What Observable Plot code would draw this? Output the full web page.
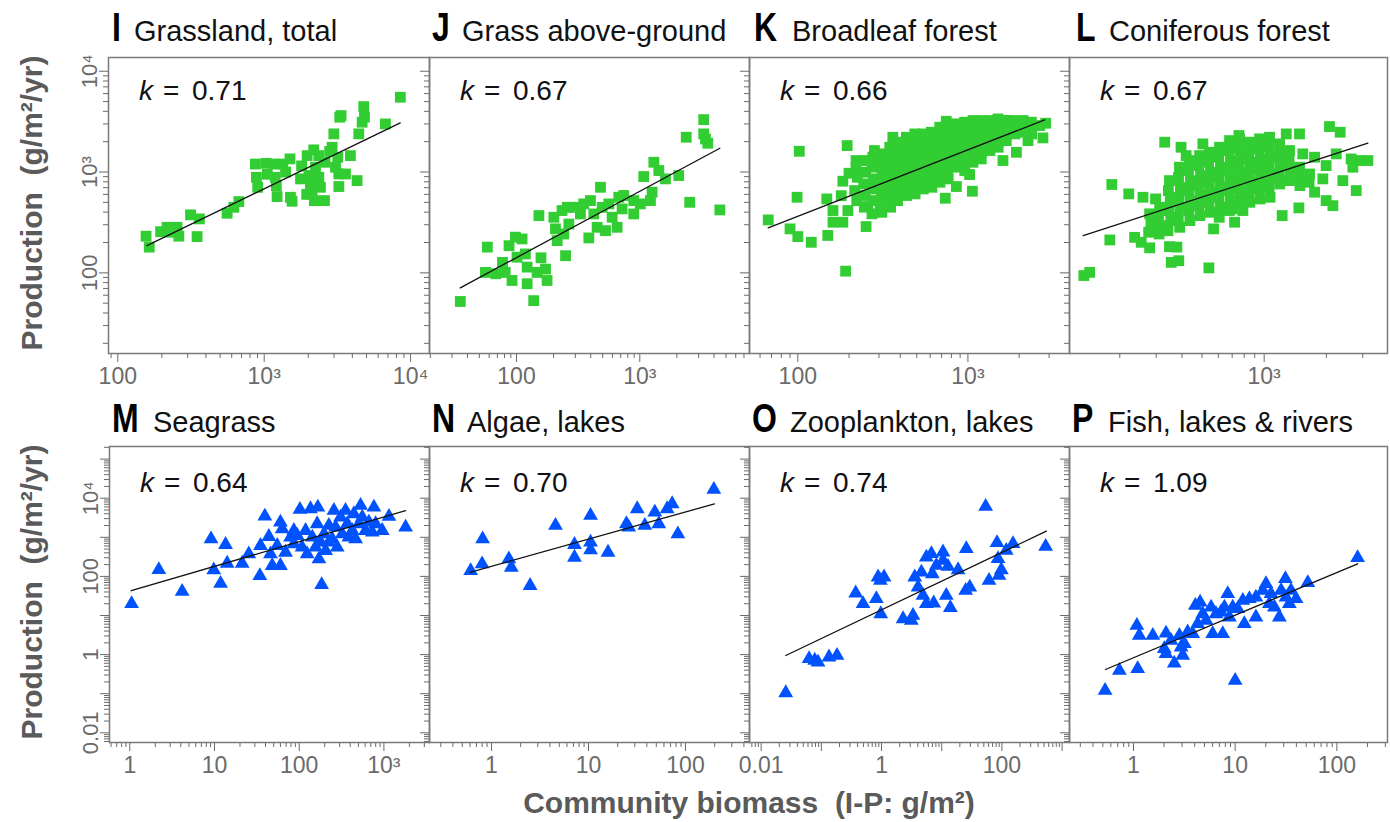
<!DOCTYPE html>
<html><head><meta charset="utf-8">
<script src="https://cdn.jsdelivr.net/npm/d3@7"></script>
<script src="https://cdn.jsdelivr.net/npm/@observablehq/plot@0.6"></script>
<style>
html,body{margin:0;padding:0;background:#fff;}
#chart{position:relative;width:1390px;height:822px;overflow:hidden;background:#fff;font-family:"Liberation Sans",Arial,Helvetica,sans-serif;}
#chart svg{position:absolute;}
</style></head><body><div id="chart"></div>
<script>
const FONT = '"Liberation Sans", Arial, Helvetica, sans-serif';
const GREEN = "#32cd32", BLUE = "#0052ff";
const TICK = "#6a6a6a", TICKTEXT = "#6a6a6a", FRAME = "#7a7a7a", AXISTITLE = "#5a5a5a";

// ---- data: [biomass, production] ----
const grassTotal = [[156,231],[164,180],[196,256],[217,283],[229,253],[254,283],[261,231],[314,376],[348,229],[361,343],
[558,390],[620,447],[671,509],[871,1200],[885,887],[903,706],[1030,1220],[1175,1200],[1190,887],[1210,734],[1225,571],
[1340,1200],[1500,1350],[1510,562],[1550,513],[1770,855],[1965,1455],[2020,923],[2070,734],[2125,607],[2180,1660],
[2240,1117],[2360,1455],[2360,887],[2420,706],[2580,521],[2990,2390],[2910,1760],[3070,1117],[3180,1400],[3235,957],
[3235,718],[3280,3500],[3350,3630],[3590,957],[3880,1455],[4310,822],[4425,2390],[4665,3120],[4785,4460],[4840,3500],
[6730,3000],[8510,5520],[1050,950],[1400,1000],[1800,1150],[2600,1250],[2800,1600],[1950,600],[2200,520]];
const grassAbove = [[35,52],[58,180],[56,101],[68,98],[77,127],[81,101],[87,186],[92,84],[98,226],[101,143],[111,217],
[118,154],[122,114],[122,78],[138,53],[147,101],[152,370],[158,141],[172,109],[177,84],[201,356],[207,273],[214,209],
[234,415],[242,243],[250,148],[258,447],[266,305],[292,447],[330,384],[351,483],[386,222],[398,521],[424,384],[451,283],
[480,706],[495,447],[527,262],[561,483],[597,356],[655,283],[676,562],[719,431],[741,585],[893,521],[893,384],[1010,483],
[1077,902],[1220,521],[1259,631],[1300,1250],[1427,1035],[1615,855],[2070,923],[2380,2215],[2540,501],[3300,3310],
[3300,2390],[3410,2130],[3560,1930],[4460,421]];
const broadleaf = [[67,335],[90,273],[100,229],[102,1607],[99,562],[120,201],[150,235],[148,541],[161,318],[161,415],
[191,104],[195,1830],[184,811],[200,973],[180,583],[184,318],[197,415],[220,1300],[252,288],[258,454],[282,1633],
[362,2213],[736,550],[855,718],[1062,645],[1023,944],[1607,1300],[1928,1571],[2255,2050],[2760,2182],[2864,3050],
[746,3190],[1644,3243],[800,2957],
[220,1117],[224,887],[216,655],[222,521],[247,1300],[250,995],[244,762],[249,585],[246,448],
[276,1403],[272,1117],[279,855],[275,680],[278,521],[273,385],[310,1514],[306,1205],[313,957],[309,762],[311,607],[305,483],[312,399],
[347,1762],[342,1403],[350,1117],[345,887],[349,706],[344,562],[351,448],[388,1977],[392,1633],[385,1300],[390,1035],[387,822],[393,655],[386,521],
[435,2213],[430,1762],[438,1456],[433,1159],[440,922],[432,734],[437,585],[487,2388],[482,1901],[490,1514],[485,1205],[492,957],[484,762],[489,607],
[545,2388],[540,1977],[548,1633],[543,1300],[550,1035],[541,822],[547,680],[610,2483],[604,2051],[615,1696],[607,1349],[612,1117],[606,887],[614,706],
[683,2782],[677,2213],[688,1832],[680,1514],[686,1205],[679,957],[685,792],[764,2891],[758,2388],[770,1901],[761,1571],[767,1300],[760,1035],[766,855],
[855,3006],[848,2483],[860,2051],[852,1633],[858,1349],[850,1117],[957,3119],[950,2576],[963,2133],[954,1762],[960,1456],[952,1205],[958,1035],
[1072,3243],[1065,2679],[1080,2213],[1068,1832],[1076,1514],[1070,1250],[1200,3243],[1192,2679],[1208,2213],[1196,1901],[1204,1571],[1198,1349],
[1343,3243],[1335,2782],[1350,2301],[1340,1977],[1346,1633],[1503,3365],[1495,2782],[1510,2388],[1500,1977],[1506,1762],
[1683,3243],[1675,2782],[1690,2388],[1680,2051],[1884,3243],[1876,2782],[1890,2388],[2109,3243],[2100,2782],[2115,2483],
[2361,3119],[2355,2679],[2368,2388],[2642,2891]];
const conifer = [[134,94],[143,101],[179,212],[183,752],[221,607],[259,562],[298,541],[236,225],[254,201],[279,177],
[330,1977],[348,182],[378,180],[355,127],[386,132],[396,1762],[419,1456],[505,1901],[540,112],[569,273],[719,318],
[755,2301],[789,415],[1222,370],[1472,441],[1483,2388],[1538,1514],[1279,2388],[1233,1514],[1754,1403],[1754,631],
[1923,855],[1995,1159],[1995,521],[2151,464],[2071,2826],[2333,2483],[2233,1514],[2404,822],[2636,1349],[2790,655],
[2687,1117],[2897,1300],[3177,1300],
[279,385],[283,305],[276,253],[312,448],[308,370],[315,294],[310,243],[348,822],[344,655],[351,521],[346,415],[353,330],[342,262],
[389,1117],[385,887],[393,706],[387,562],[391,448],[384,356],[390,283],[435,1300],[430,1035],[440,822],[433,655],[438,521],[431,415],[437,330],
[487,1456],[482,1159],[492,922],[485,734],[490,585],[483,464],[489,370],[544,1571],[538,1250],[550,995],[541,792],[547,631],[540,501],[548,399],
[608,1762],[602,1403],[614,1117],[605,887],[611,706],[603,562],[612,448],[606,356],[680,2051],[674,1633],[686,1300],[677,1035],[683,822],[675,655],[684,521],[678,415],
[760,2133],[754,1696],[767,1349],[757,1074],[763,855],[756,680],[765,541],[758,431],[849,1977],[842,1571],[856,1250],[845,995],[852,792],[844,631],[853,501],
[950,2133],[943,1696],[957,1349],[947,1074],[954,855],[945,680],[955,541],[1062,2213],[1055,1762],[1070,1403],[1058,1117],[1066,887],[1057,706],[1068,562],
[1187,1901],[1180,1514],[1195,1205],[1183,957],[1190,762],[1327,1633],[1320,1300],[1335,1035],[1323,822],[1483,1117],[1476,887],[1490,734],[1658,957],[1650,792]];
const seagrass = [[1.05,20],[2.2,148],[4.15,41],[9.1,905],[9.8,145],[11.8,66],[13.5,649],[14.1,215],[21.2,215],[25.4,374],
[34.3,104],[34.9,611],[39.3,3450],[43.8,1040],[45.8,374],[48,188],[55,611],[60,2425],[60,188],[63,1637],[69,412],[79,1000],
[86.5,1483],[86.5,675],[95,1104],[102,5120],[108,555],[119,1483],[124,374],[136,5320],[143,1000],[156,555],[163,2198],
[166,5870],[171,278],[179,744],[184,61],[196,1217],[205,455],[224,1993],[224,744],[245,905],[257,4830],[269,1803],[281,555],
[308,3260],[322,1217],[352,4830],[369,2198],[386,1000],[423,1483],[442,3960],[463,905],[507,2198],[530,6490],[555,3260],
[607,1483],[665,2425],[728,1343],[762,5870],[798,2198],[955,1483],[1146,3390],[1803,1803]];
const algae = [[0.61,140],[0.8,207],[0.81,905],[1.51,278],[1.6,170],[2.5,58],[4.57,1993],[7.17,649],[7.17,307],[10.5,3597],
[10.5,744],[10.5,473],[15.9,412],[24.6,2198],[26,1803],[31.8,5320],[38.1,1993],[48.3,4380],[53.1,2198],[64.7,5320],
[72.9,7160],[83.4,1217],[196,16700]];
const zooplankton = [[0.0256,0.105],[0.0625,0.78],[0.0776,0.71],[0.088,0.64],[0.134,0.86],[0.182,0.95],[0.372,37.3],
[0.493,19.9],[0.82,26.7],[0.875,95.7],[0.957,78.7],[1.1,95.7],[0.97,11],[2.28,8.2],[3.13,7.45],[3.33,10],[3.56,95.7],
[4.04,53],[4.59,128],[4.89,32.5],[5.55,310],[5.55,19.9],[6.73,378],[6.98,116],[7.35,20.7],[8.14,190],[10.5,417],[10.5,255],
[11.9,32.5],[12.7,179],[13.9,15.7],[18.7,147],[25.6,507],[25,43.6],[29.2,53],[53.7,6140],[61.1,78.7],[82.8,723],[86.1,282],
[89.5,105],[97.8,147],[118,460],[153,681],[533,582]];
const fish = [[0.526,0.121],[0.727,0.393],[1.08,5.56],[1.1,0.433],[1.14,3.08],[1.55,3.08],[2.09,3.53],[2.01,1.41],[2.09,1.05],
[2.34,2.3],[2.52,0.6],[2.83,3.08],[2.94,1.55],[3.17,1.89],[3.05,0.95],[3.41,3.75],[3.83,3.4],[4.06,18],[4.28,6.12],[4.52,21.9],
[4.8,11],[5.18,7.46],[5.8,16.3],[6.01,3.4],[6.48,11],[7.26,12.2],[7.55,3.4],[7.84,16.3],[8.45,35.8],[8.77,9.08],[9.46,16.3],
[10,0.218],[10.6,14.8],[11.9,24.2],[12.3,6.12],[13.8,26.7],[16,9.08],[16,29.4],[18.7,43.6],[20.1,64.6],[21.7,19.9],[22.5,35.8],
[24.3,16.3],[27.2,9.08],[28.3,43.6],[31.2,86.7],[31.6,29.4],[34.1,19.9],[35.4,43.6],[39.7,26.7],[51.8,68.5],[160,299]];

// fitted power-law lines (end points)
const fitGrassTotal = [[158,186],[8500,3070]];
const fitGrassAbove = [[35,71],[4460,1720]];
const fitBroadleaf = [[67,279],[2826,3290]];
const fitConifer = [[133,234],[3177,1931]];
const fitSeagrass = [[1.04,43],[1803,4830]];
const fitAlgae = [[0.6,127],[199,7160]];
const fitZooplankton = [[0.0256,0.95],[547,1436]];
const fitFish = [[0.53,0.416],[160,210]];

const panelLetters = ["I","J","K","L","M","N","O","P"];
const panelTitles = ["Grassland, total","Grass above-ground","Broadleaf forest","Coniferous forest",
  "Seagrass","Algae, lakes","Zooplankton, lakes","Fish, lakes & rivers"];
const kValues = ["0.71","0.67","0.66","0.67","0.64","0.70","0.74","1.09"];
const tickValueList = [0.01, 1, 10, 100, 1000, 10000];
const tickLabelList = ["0.01","1","10","100","10³","10⁴"];
const yTicksTop = [100, 1000, 10000];
const yTicksBottom = [0.01, 1, 100, 10000];
const xTicks = [[100,1000,10000],[100,1000],[100,1000],[1000],[1,10,100,1000],[1,10,100],[0.01,1,100],[1,10,100]];
const yLabel = "Production  (g/m²/yr)";
const xLabel = "Community biomass  (I-P: g/m²)";

const datasets = [grassTotal, grassAbove, broadleaf, conifer, seagrass, algae, zooplankton, fish];
const fits = [fitGrassTotal, fitGrassAbove, fitBroadleaf, fitConifer, fitSeagrass, fitAlgae, fitZooplankton, fitFish];

// ---- layout ----
const frames = [
  [108,429,57,353],[429,749,57,353],[749,1069,57,353],[1069,1387,57,353],
  [109,429,446,742],[429,749,446,742],[749,1069,446,742],[1069,1387,446,742]];
const xDomains = [[86.4,13460],[19.7,7760],[52,3955],[114.2,3954],[0.576,3453],[0.2296,457],[0.0064,1327],[0.235,314.8]];
const yDomainTop = [15.85, 13680], yDomainBottom = [0.00565, 209900];
const letterX = [112,432,754,1076,112,432,752,1072];
const titleX = [134,462,792,1109,153,467,790,1108];

function logTicks([lo, hi]) {
  const major = [], minor = [];
  for (let e = Math.floor(Math.log10(lo)) - 1; e <= Math.ceil(Math.log10(hi)); e++) {
    for (let m = 1; m <= 9; m++) {
      const v = +(m * Math.pow(10, e)).toPrecision(10);
      if (v < lo * 1.001 || v > hi * 0.999) continue;
      (m === 1 ? major : minor).push(v);
    }
  }
  return {major, minor};
}
const fmt = v => tickLabelList[tickValueList.indexOf(v)];

const chart = document.getElementById("chart");
const mL = 60, mR = 12, mT = 12, mB = 50;

for (let i = 0; i < 8; i++) {
  const [x0, x1, y0, y1] = frames[i];
  const top = i < 4;
  const xd = xDomains[i], yd = top ? yDomainTop : yDomainBottom;
  const xt = logTicks(xd), yt = logTicks(yd);
  const marks = [
    Plot.axisX({ticks: xt.major, tickSize: 9, fill: "none", stroke: TICK, label: null}),
    Plot.axisX({ticks: xt.minor, tickSize: 5, fill: "none", stroke: TICK, label: null}),
    Plot.axisX({ticks: xTicks[i], tickSize: 0, tickPadding: 14, tickFormat: fmt, fill: TICKTEXT, fontSize: 23, label: null}),
    Plot.axisY({ticks: yt.major, tickSize: 9, fill: "none", stroke: TICK, label: null}),
    Plot.axisY({ticks: yt.minor, tickSize: 5, fill: "none", stroke: TICK, label: null})
  ];
  if (i === 0 || i === 4) {
    marks.push(Plot.axisY({ticks: top ? yTicksTop : yTicksBottom, tickSize: 0, tickPadding: 12, tickRotate: -90,
      tickFormat: fmt, fill: TICKTEXT, fontSize: 22, label: null}));
  }
  marks.push(Plot.frame({stroke: FRAME, strokeWidth: 1.5}));
  marks.push(Plot.dot(datasets[i], {x: d => d[0], y: d => d[1], symbol: top ? "square" : "triangle",
    r: top ? 6.1 : 5.5, fill: top ? GREEN : BLUE}));
  marks.push(Plot.line(fits[i], {x: d => d[0], y: d => d[1], stroke: "#111", strokeWidth: 1.3}));
  const svg = Plot.plot({
    width: (x1 - x0) + mL + mR, height: (y1 - y0) + mT + mB,
    marginLeft: mL, marginRight: mR, marginTop: mT, marginBottom: mB,
    style: {background: "transparent", overflow: "visible", fontFamily: FONT, maxWidth: "none"},
    x: {type: "log", domain: xd},
    y: {type: "log", domain: yd},
    marks
  });
  svg.style.position = "absolute";
  svg.style.left = (x0 - mL) + "px";
  svg.style.top = (y0 - mT) + "px";
  chart.appendChild(svg);
}

// ---- text overlay: titles, k values, axis titles ----
const ov = d3.select("#chart").append("svg")
  .attr("width", 1390).attr("height", 822)
  .style("left", "0px").style("top", "0px").style("pointer-events", "none")
  .style("font-family", FONT).style("overflow", "visible");

for (let i = 0; i < 8; i++) {
  const base = i < 4 ? 41 : 432;
  const kBase = i < 4 ? 100 : 492;
  const x0 = frames[i][0];
  ov.append("text").attr("transform", `translate(${letterX[i]},${base}) scale(0.78,1)`)
    .attr("font-size", 41).attr("font-weight", "bold").attr("fill", "#000").text(panelLetters[i]);
  ov.append("text").attr("x", titleX[i]).attr("y", base).attr("font-size", 29).attr("fill", "#111").text(panelTitles[i]);
  ov.append("text").attr("x", x0 + 31).attr("y", kBase).attr("font-size", 28).attr("font-style", "italic").attr("fill", "#111").text("k");
  ov.append("text").attr("x", x0 + 55).attr("y", kBase).attr("font-size", 28).attr("fill", "#111").text("=");
  ov.append("text").attr("x", x0 + 84).attr("y", kBase).attr("font-size", 28).attr("fill", "#111").text(kValues[i]);
}
for (const cy of [203, 592]) {
  ov.append("text").attr("transform", `translate(42,${cy}) rotate(-90)`).attr("text-anchor", "middle")
    .attr("font-size", 30).attr("font-weight", "bold").attr("fill", AXISTITLE).style("white-space", "pre").text(yLabel);
}
ov.append("text").attr("x", 749).attr("y", 813).attr("text-anchor", "middle")
  .attr("font-size", 30).attr("font-weight", "bold").attr("fill", AXISTITLE).style("white-space", "pre").text(xLabel);
</script></body></html>
